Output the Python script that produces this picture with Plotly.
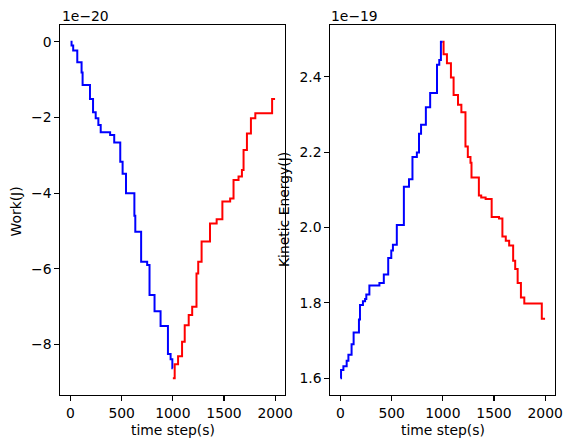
import plotly.graph_objects as go

# ---- data ----
# Work in units of 1e-20 J, step breakpoints (time step, value)
work_blue_t = [0, 10, 26, 66, 108, 118, 190, 220, 246, 272, 295, 387, 427, 486, 509, 542,
               624, 633, 690, 749, 772, 821, 880, 952, 978, 995, 999]
work_blue_v = [0.0, -0.10, -0.23, -0.54, -0.81, -1.14, -1.51, -1.86, -2.02, -2.20, -2.39, -2.46,
               -2.66, -3.17, -3.49, -4.00, -4.60, -5.02, -5.81, -5.90, -6.69, -7.12, -7.51,
               -8.25, -8.39, -8.63, -8.63]
work_red_t = [1000, 1018, 1051, 1090, 1116, 1155, 1189, 1231, 1248, 1281, 1363, 1428, 1484,
              1560, 1593, 1642, 1675, 1691, 1724, 1763, 1806, 1970, 1999]
work_red_v = [-8.89, -8.52, -8.31, -7.93, -7.49, -7.22, -7.00, -6.12, -5.81, -5.28, -4.80,
              -4.69, -4.22, -4.14, -3.65, -3.56, -3.39, -2.86, -2.42, -2.02, -1.89, -1.51, -1.51]

# Kinetic energy in units of 1e-19 J
ke_blue_t = [0, 5, 28, 60, 77, 108, 128, 180, 190, 219, 240, 252, 282, 380, 423, 466, 496,
             512, 550, 619, 669, 703, 746, 767, 787, 834, 876, 943, 965, 981, 999]
ke_blue_v = [1.600, 1.622, 1.632, 1.646, 1.662, 1.690, 1.721, 1.756, 1.794, 1.804, 1.810,
             1.822, 1.846, 1.853, 1.875, 1.919, 1.939, 1.954, 2.007, 2.108, 2.128, 2.187,
             2.199, 2.249, 2.273, 2.319, 2.357, 2.432, 2.445, 2.493, 2.493]
ke_red_t = [1000, 1007, 1040, 1079, 1105, 1148, 1181, 1221, 1244, 1270, 1280, 1352, 1375,
            1418, 1477, 1549, 1582, 1615, 1648, 1687, 1707, 1731, 1763, 1796, 1967, 1999]
ke_red_v = [2.493, 2.460, 2.436, 2.398, 2.352, 2.326, 2.306, 2.215, 2.187, 2.172, 2.133,
            2.085, 2.080, 2.076, 2.028, 2.024, 1.976, 1.965, 1.952, 1.912, 1.890, 1.853,
            1.814, 1.798, 1.758, 1.758]

x_ticks = [0, 500, 1000, 1500, 2000]
work_ticks = [-8, -6, -4, -2, 0]
ke_ticks = [1.6, 1.8, 2.0, 2.2, 2.4]

x_labels = [str(v) for v in x_ticks]
work_labels = [str(v).replace("-", "\u2212") for v in work_ticks]
ke_labels = [f"{v:.1f}" for v in ke_ticks]

W, H = 573, 448
FONT = "DejaVu Sans"
FS = 13.9

fig = go.Figure()
lw = 2.0
fig.add_trace(go.Scatter(x=work_blue_t, y=work_blue_v, mode="lines", line=dict(color="#0000ff", width=lw, shape="hv"), xaxis="x", yaxis="y"))
fig.add_trace(go.Scatter(x=work_red_t, y=work_red_v, mode="lines", line=dict(color="#ff0000", width=lw, shape="hv"), xaxis="x", yaxis="y"))
fig.add_trace(go.Scatter(x=ke_blue_t, y=ke_blue_v, mode="lines", line=dict(color="#0000ff", width=lw, shape="hv"), xaxis="x2", yaxis="y2"))
fig.add_trace(go.Scatter(x=ke_red_t, y=ke_red_v, mode="lines", line=dict(color="#ff0000", width=lw, shape="hv"), xaxis="x2", yaxis="y2"))

ax_common = dict(showline=True, mirror=True, linecolor="black", linewidth=1.1, showgrid=False,
                 zeroline=False, ticks="outside", ticklen=4.9, tickwidth=1.1, tickcolor="black",
                 tickfont=dict(family=FONT, size=FS, color="black"), automargin=False)

ydom = [1 - 395 / H, 1 - 25 / H]
xdom1 = [60.3 / W, 285.3 / W]
xdom2 = [330.3 / W, 555.3 / W]

def pad(lo, hi):
    m = (hi - lo) * 0.05
    return [lo - m, hi + m]

wall = work_blue_v + work_red_v
kall = ke_blue_v + ke_red_v
tall = work_blue_t + work_red_t

fig.update_layout(
    width=W, height=H, autosize=False,
    margin=dict(l=0, r=0, t=0, b=0),
    paper_bgcolor="white", plot_bgcolor="white",
    showlegend=False,
    xaxis=dict(domain=xdom1, anchor="y", range=pad(min(tall), max(tall)),
               tickvals=x_ticks, ticktext=x_labels, **ax_common),
    yaxis=dict(domain=ydom, anchor="x", range=pad(min(wall), max(wall)),
               tickvals=work_ticks, ticktext=work_labels, **ax_common),
    xaxis2=dict(domain=xdom2, anchor="y2", range=pad(min(tall), max(tall)),
                tickvals=x_ticks, ticktext=x_labels, **ax_common),
    yaxis2=dict(domain=ydom, anchor="x2", range=pad(min(kall), max(kall)),
                tickvals=ke_ticks, ticktext=ke_labels, **ax_common),
)

def ann(text, x, y, angle=0, xanchor="center", yanchor="middle"):
    fig.add_annotation(text=text, x=x / W, y=1 - y / H, xref="paper", yref="paper",
                       showarrow=False, textangle=angle, xanchor=xanchor, yanchor=yanchor,
                       font=dict(family=FONT, size=FS, color="black"))

ann("1e\u221220", 59.5, 16, xanchor="left")
ann("1e\u221219", 329.5, 16, xanchor="left")
ann("Work(J)", 15.5, 212, angle=-90)
ann("Kinetic Energy(J)", 284, 210, angle=-90)
ann("time step(s)", 172.8, 430)
ann("time step(s)", 442.8, 430)

fig.write_html("out.html", config={"displayModeBar": False, "staticPlot": True},
               post_script="document.body.style.margin='0';document.body.style.overflow='hidden';")
